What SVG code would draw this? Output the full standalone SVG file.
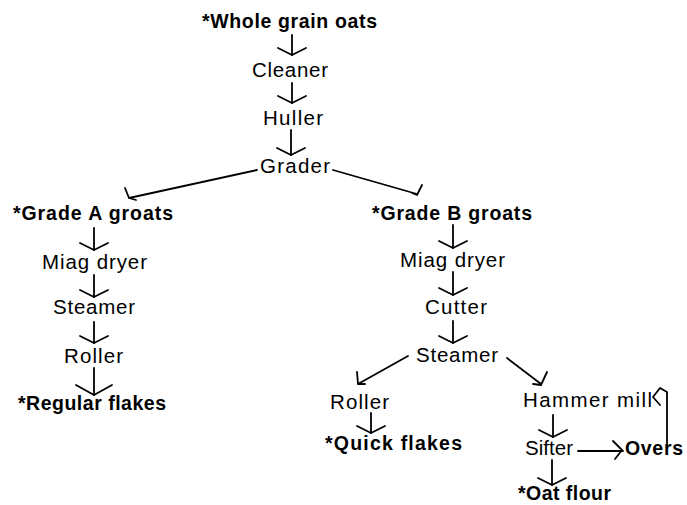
<svg xmlns="http://www.w3.org/2000/svg" width="687" height="505" viewBox="0 0 687 505">
<style>
text{font-family:"Liberation Sans",Arial,sans-serif;font-size:20.5px;fill:#000}
.b{font-weight:bold;font-size:19.5px}
.c{fill:none;stroke:#000;stroke-width:1.8;stroke-linecap:round;stroke-linejoin:round}
</style>
<defs>
<marker id="v" markerUnits="userSpaceOnUse" viewBox="-10 -16 12 32" refX="0" refY="0" markerWidth="12" markerHeight="32" orient="auto" overflow="visible">
<path d="M-7,-14 L0,0 L-7,14" fill="none" stroke="#000" stroke-width="1.8" stroke-linecap="round" stroke-linejoin="round"/>
</marker>
<marker id="vl" markerUnits="userSpaceOnUse" viewBox="-12 -20 14 40" refX="0" refY="0" markerWidth="14" markerHeight="40" orient="auto" overflow="visible">
<path d="M-10,-18 L0,0 L-10,18" fill="none" stroke="#000" stroke-width="1.8" stroke-linecap="round" stroke-linejoin="round"/>
</marker>
</defs>
<rect width="687" height="505" fill="#fff"/>
<g id="connectors" class="c">
<path d="M292,35 V55" marker-end="url(#v)"/>
<path d="M292,83 V103" marker-end="url(#v)"/>
<path d="M291,130 V155" marker-end="url(#v)"/>
<path d="M257,170 L129,198 M125,188 L129,198 L136,200"/>
<path d="M333,170 L417,194 M412,193 L417,195 L422,185"/>
<path d="M94,228 V250" marker-end="url(#v)"/>
<path d="M94,275 V297" marker-end="url(#v)"/>
<path d="M94,322 V343" marker-end="url(#v)"/>
<path d="M94,368 V395" marker-end="url(#vl)"/>
<path d="M453,225 V248" marker-end="url(#v)"/>
<path d="M453,272 V295" marker-end="url(#v)"/>
<path d="M453,321 V343" marker-end="url(#v)"/>
<path d="M408,356 L358,384 M357,372 L358,384 L365,384"/>
<path d="M507,358 L541,384 M533,384 L541,385 L547,372"/>
<path d="M371,413 V433" marker-end="url(#v)"/>
<path d="M553,415 V437" marker-end="url(#v)"/>
<path d="M552,460 V485" marker-end="url(#v)"/>
<path d="M578,451 H623 M613,441 L622,450 L615,459"/>
<path d="M667,448 V392 L660,388 L653,397 L660,405"/>
</g>
<g id="whole"><text class="b" x="202" y="28" textLength="175" lengthAdjust="spacing">*Whole grain oats</text></g>
<g id="cleaner"><text x="252" y="77" textLength="76" lengthAdjust="spacing">Cleaner</text></g>
<g id="huller"><text x="263" y="125" textLength="60" lengthAdjust="spacing">Huller</text></g>
<g id="grader"><text x="260" y="173" textLength="70" lengthAdjust="spacing">Grader</text></g>
<g id="gradeA"><text class="b" x="13" y="220" textLength="160" lengthAdjust="spacing">*Grade A groats</text></g>
<g id="gradeB"><text class="b" x="372" y="220" textLength="160" lengthAdjust="spacing">*Grade B groats</text></g>
<g id="miagA"><text x="42" y="269" textLength="105" lengthAdjust="spacing">Miag dryer</text></g>
<g id="miagB"><text x="400" y="267" textLength="105" lengthAdjust="spacing">Miag dryer</text></g>
<g id="steamerA"><text x="53" y="314" textLength="82" lengthAdjust="spacing">Steamer</text></g>
<g id="cutter"><text x="425" y="314" textLength="62" lengthAdjust="spacing">Cutter</text></g>
<g id="rollerA"><text x="64" y="363" textLength="59" lengthAdjust="spacing">Roller</text></g>
<g id="steamerB"><text x="416" y="362" textLength="82" lengthAdjust="spacing">Steamer</text></g>
<g id="regular"><text class="b" x="18" y="410" textLength="148" lengthAdjust="spacing">*Regular flakes</text></g>
<g id="rollerB"><text x="330" y="409" textLength="59" lengthAdjust="spacing">Roller</text></g>
<g id="hammer"><text x="523" y="407" textLength="129" lengthAdjust="spacing">Hammer mill</text></g>
<g id="quick"><text class="b" x="325" y="450" textLength="137" lengthAdjust="spacing">*Quick flakes</text></g>
<g id="sifter"><text x="525" y="455" textLength="48" lengthAdjust="spacing">Sifter</text></g>
<g id="overs"><text class="b" x="625" y="455" textLength="58" lengthAdjust="spacing">Overs</text></g>
<g id="oatflour"><text class="b" x="518" y="500" textLength="93" lengthAdjust="spacing">*Oat flour</text></g>
</svg>
